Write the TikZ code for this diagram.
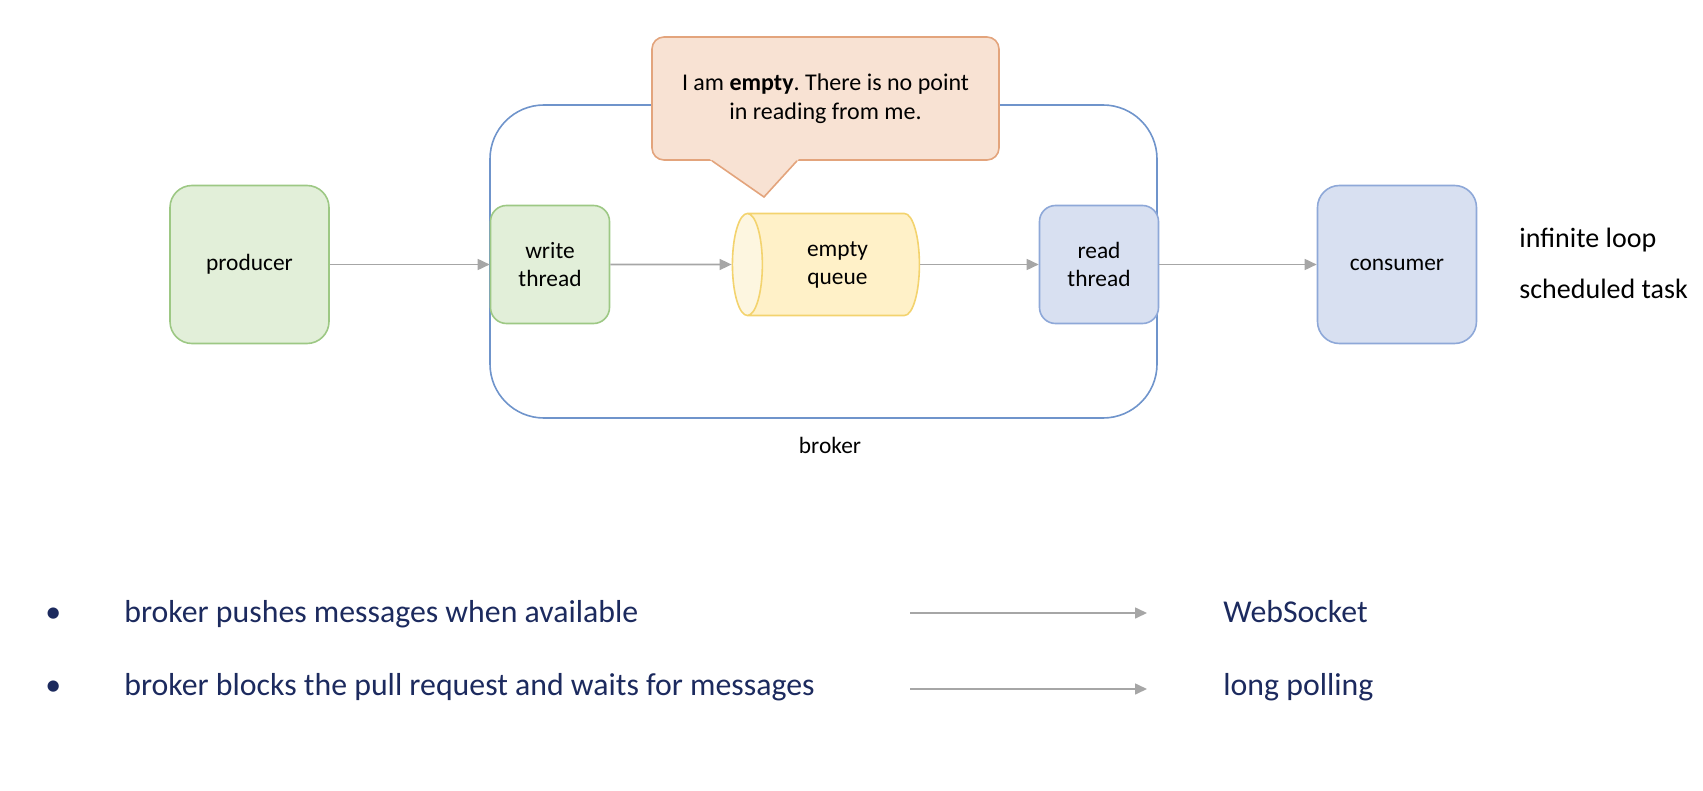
\documentclass[tikz,border=0pt]{standalone}
\usepackage{fontspec}
\setmainfont{Carlito}
\usepackage{xcolor}
\usepackage{tikz}
\usetikzlibrary{calc,shapes,positioning}
\usetikzlibrary{arrows.meta}

\definecolor{grfill}{HTML}{E2EFD9}
\definecolor{grline}{HTML}{9DC884}
\definecolor{blfill}{HTML}{D8E0F1}
\definecolor{blline}{HTML}{8EA8D8}
\definecolor{brline}{HTML}{6F94CB}
\definecolor{ylfill}{HTML}{FFF1C8}
\definecolor{ylend}{HTML}{FDF6E0}
\definecolor{ylline}{HTML}{F3D36E}
\definecolor{orfill}{HTML}{F8E2D3}
\definecolor{orline}{HTML}{E3A47C}
\definecolor{arrgray}{HTML}{A6A6A6}
\definecolor{navy}{HTML}{1C2A5E}

\begin{document}
\frenchspacing
\begin{tikzpicture}[x=0.5pt,y=-0.5pt]
      \tikzstyle{gnode} = [thick, draw=grline, fill=grfill]
      \tikzstyle{bnode} = [thick, draw=blline, fill=blfill]
      \tikzstyle{bignode} = [rectangle, rounded corners=11pt, minimum width=79.5pt, minimum height=79pt, align=center, font=\fontsize{11.7}{14}\selectfont]
      \tikzstyle{smallnode} = [rectangle, rounded corners=8pt, minimum width=59.5pt, minimum height=59pt, align=center, font=\fontsize{11.7}{14}\selectfont]
      \tikzstyle{qnode} = [thick, cylinder, shape border rotate=180, aspect=0.5, draw=ylline, cylinder uses custom fill, cylinder body fill=ylfill, cylinder end fill=ylend, minimum width=51pt, minimum height=93.5pt, align=center, font=\fontsize{11.7}{14}\selectfont]
      \tikzstyle{cnode} = [thick, rectangle, rounded corners=6pt, draw=orline, fill=orfill, minimum width=173.5pt, minimum height=61.5pt, align=center, font=\fontsize{12}{14.5}\selectfont]
      \tikzstyle{frame} = [thick, rectangle, rounded corners=27pt, draw=brline, minimum width=333.5pt, minimum height=156.5pt]
      \tikzstyle{arr} = [draw=arrgray, line width=0.8pt, -{Triangle[length=6pt,width=5.5pt]}]
      \tikzstyle{side} = [inner sep=0pt, anchor=base west, font=\fontsize{14}{16}\selectfont]
      \tikzstyle{bul} = [inner sep=0pt, anchor=base west, text=navy, font=\fontsize{15.9}{18}\selectfont]

      \useasboundingbox (0,0) rectangle (1703,791);

      % broker and its note
      \node[frame] (broker) at (823.5,261.5) {};
      \node[inner sep=0pt, font=\fontsize{11.7}{14}\selectfont] (brokerlbl) at (830,445) {broker};

      \node[cnode] (note) at (825.5,98.5) {I am \textbf{empty}. There is no point\\in reading from me.};
      \coordinate (tip) at (764,197);
      \fill[orfill] ($(note.south)+(-117.5,-3)$) -- (tip) -- ($(note.south)+(-25.5,-3)$) -- cycle;
      \draw[thick, orline] ($(note.south)+(-113.5,0)$) -- (tip) -- ($(note.south)+(-28.5,0)$);

      \node[bignode, gnode] (producer) at (249.5,264.5) {producer};
      \node[smallnode, gnode] (write) at (550,264.5) {write\\thread};
      \node[qnode] (queue) at (837.5,264.5) {empty\\queue};
      \node[smallnode, bnode] (read) at (1099,264.5) {read\\thread};
      \node[bignode, bnode] (consumer) at (1397,264.5) {consumer};

      \node[side] (loop) at (1519,248) {infinite loop};
      \node[side] (task) at (1519,299) {scheduled task};

      % connections
      \draw[arr] (producer) to (write);
      \draw[arr] (write) to (queue);
      \draw[arr] (queue) to (read);
      \draw[arr] (read) to (consumer);

      % bottom notes
      \node[bul] (dot1) at (45,622) {\textbullet};
      \node[bul] (push) at (124,622) {broker pushes messages when available};
      \node[bul] (ws) at (1223,622) {WebSocket};
      \coordinate (push0) at (910,613);
      \coordinate (push1) at (1147,613);
      \draw[arr] (push0) to (push1);

      \node[bul] (dot2) at (45,695) {\textbullet};
      \node[bul] (block) at (124,695) {broker blocks the pull request and waits for messages};
      \node[bul] (lp) at (1223,695) {long polling};
      \coordinate (block0) at (910,689);
      \coordinate (block1) at (1147,689);
      \draw[arr] (block0) to (block1);
    \end{tikzpicture}
\end{document}
